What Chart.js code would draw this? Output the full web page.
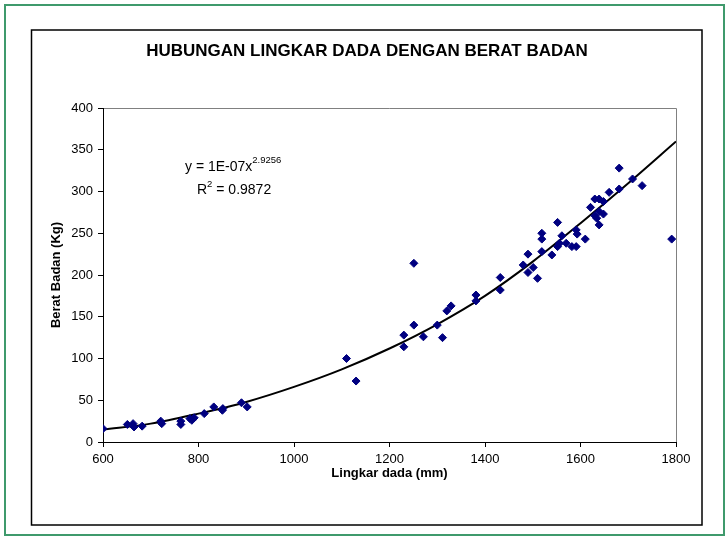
<!DOCTYPE html>
<html>
<head>
<meta charset="utf-8">
<script src="https://cdn.jsdelivr.net/npm/chart.js@4.4.1/dist/chart.umd.min.js"></script>
<style>
  html, body { margin: 0; padding: 0; background: #fff; }
  canvas { display: block; }
</style>
</head>
<body>
<canvas id="chart" width="728" height="539"></canvas>
<script>
// data
const lingkarDada = [600, 651, 663, 665, 682, 721, 723, 763, 763, 782, 786, 791, 812, 832, 851, 850, 890, 902,
  1110, 1130, 1230, 1230, 1251, 1251, 1271, 1300, 1311, 1320, 1329, 1381, 1381, 1432, 1432,
  1480, 1490, 1490, 1501, 1510, 1519, 1519, 1519, 1540, 1552, 1552, 1556, 1561, 1570, 1582, 1591, 1591, 1593,
  1610, 1621, 1630, 1639, 1648, 1630, 1634, 1639, 1648, 1639, 1660, 1681, 1681, 1709, 1729, 1791];
const beratBadan = [16, 21, 22, 18, 19, 25, 22, 25, 21, 28, 26, 29, 34, 42, 40, 38, 47, 42,
  100, 73, 128, 114, 140, 214, 126, 140, 125, 157, 163, 176, 169, 197, 182,
  212, 225, 203, 209, 196, 228, 243, 250, 224, 263, 234, 238, 247, 238, 234, 234, 254, 249,
  243, 281, 291, 291, 288, 271, 268, 276, 273, 260, 299, 303, 328, 315, 307, 243];

// power trendline
const trendX = [600, 700, 800, 900, 1000, 1100, 1200, 1300, 1400, 1500, 1600, 1700, 1800];
const trendY = [15, 22, 34, 48, 66, 87, 112, 141, 175, 216, 262, 310, 360];

const xTicks = [600, 800, 1000, 1200, 1400, 1600, 1800];
const yTicks = [0, 50, 100, 150, 200, 250, 300, 350, 400];

const judul = 'HUBUNGAN LINGKAR DADA DENGAN BERAT BADAN';
const FONT = '"Liberation Sans", Arial, sans-serif';

const points = lingkarDada.map((x, i) => ({ x: x, y: beratBadan[i] }));
const trend = trendX.map((x, i) => ({ x: x, y: trendY[i] }));

const frame = {
  id: 'frame',
  beforeDraw(chart) {
    const c = chart.ctx;
    c.save();
    c.fillStyle = '#fff';
    c.fillRect(0, 0, chart.width, chart.height);
    c.strokeStyle = '#3f9a6c';
    c.lineWidth = 2;
    c.strokeRect(5, 5, 719, 530);
    c.strokeStyle = '#000';
    c.lineWidth = 1.5;
    c.strokeRect(31.5, 30, 670.5, 495);
    // plot area border (top, right)
    const a = chart.chartArea;
    c.strokeStyle = '#808080';
    c.lineWidth = 1;
    c.beginPath();
    c.moveTo(a.left, a.top + 0.5);
    c.lineTo(a.right + 0.5, a.top + 0.5);
    c.lineTo(a.right + 0.5, a.bottom);
    c.stroke();
    c.restore();
  },
  afterDraw(chart) {
    const c = chart.ctx;
    c.save();
    c.fillStyle = '#000';
    c.textBaseline = 'alphabetic';
    c.textAlign = 'center';
    c.font = 'bold 17px ' + FONT;
    c.fillText(judul, 367, 56);

    // equation text
    c.textAlign = 'left';
    let x = 185;
    c.font = '14px ' + FONT;
    const t1 = 'y = 1E-07x';
    c.fillText(t1, x, 171);
    x += c.measureText(t1).width;
    c.font = '9.5px ' + FONT;
    c.fillText('2.9256', x, 163);

    x = 197;
    c.font = '14px ' + FONT;
    c.fillText('R', x, 194);
    x += c.measureText('R').width;
    c.font = '9.5px ' + FONT;
    c.fillText('2', x, 187);
    x += c.measureText('2').width;
    c.font = '14px ' + FONT;
    c.fillText(' = 0.9872', x, 194);
    c.restore();
  }
};

new Chart(document.getElementById('chart').getContext('2d'), {
  data: {
    datasets: [{
      type: 'scatter',
      data: points,
      pointStyle: 'rectRot',
      pointRadius: 4,
      pointBackgroundColor: '#000080',
      pointBorderColor: '#000080',
      pointBorderWidth: 1,
      order: 1
    }, {
      type: 'line',
      data: trend,
      borderColor: '#000',
      borderWidth: 2,
      pointRadius: 0,
      fill: false,
      cubicInterpolationMode: 'monotone',
      order: 2
    }]
  },
  options: {
    responsive: false,
    animation: false,
    layout: { padding: { left: 40, right: 52, top: 108, bottom: 50 } },
    plugins: { legend: { display: false }, tooltip: { enabled: false } },
    scales: {
      x: {
        type: 'linear',
        min: 600,
        max: 1800,
        afterFit(s) { s.height = 47; },
        afterBuildTicks(s) { s.ticks = xTicks.map(v => ({ value: v })); },
        grid: { drawOnChartArea: false, tickLength: 5, color: '#000' },
        border: { color: '#000', width: 1 },
        ticks: { color: '#000', font: { family: FONT, size: 13 }, padding: 5, maxRotation: 0,
          callback: v => String(v) },
        title: { display: true, text: 'Lingkar dada (mm)', color: '#000',
          font: { family: FONT, size: 13, weight: 'bold' }, padding: { top: 0, bottom: 8 } }
      },
      y: {
        min: 0,
        max: 400,
        afterFit(s) { s.width = 63; },
        afterBuildTicks(s) { s.ticks = yTicks.map(v => ({ value: v })); },
        grid: { drawOnChartArea: false, tickLength: 5, color: '#000' },
        border: { color: '#000', width: 1 },
        ticks: { color: '#000', font: { family: FONT, size: 13 }, padding: 5,
          callback: v => String(v) },
        title: { display: true, text: 'Berat Badan (Kg)', color: '#000',
          font: { family: FONT, size: 13, weight: 'bold' }, padding: { top: 9, bottom: 0 } }
      }
    }
  },
  plugins: [frame]
});
</script>
</body>
</html>
